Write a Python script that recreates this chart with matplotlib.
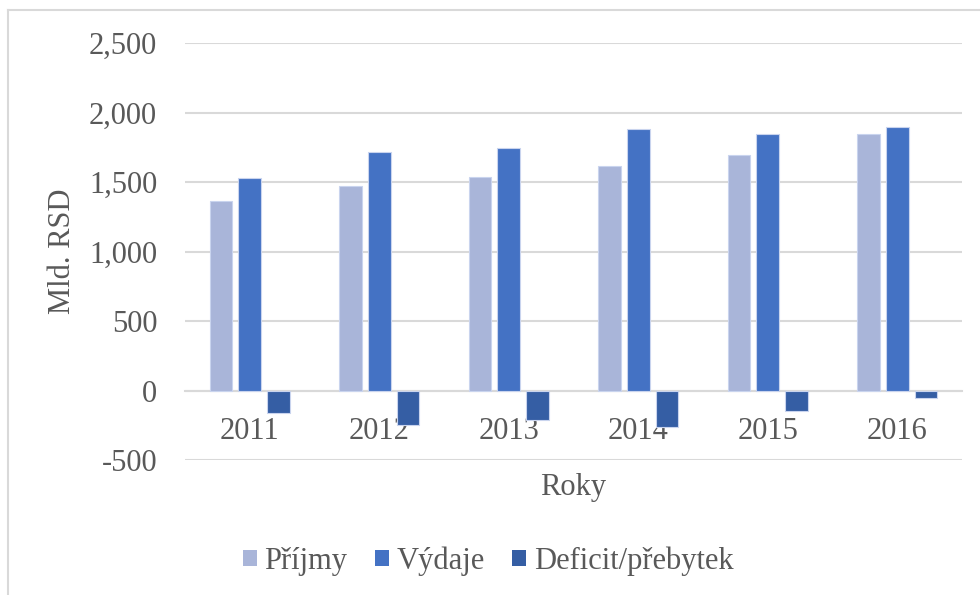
import matplotlib
matplotlib.use("Agg")
import matplotlib.pyplot as plt
from matplotlib.patches import Patch
from matplotlib.lines import Line2D
import numpy as np

years = ["2011", "2012", "2013", "2014", "2015", "2016"]
prijmy = [1361, 1471, 1537, 1616, 1693, 1842]
vydaje = [1526, 1717, 1748, 1878, 1844, 1899]
deficit = [-165, -246, -215, -261, -151, -57]
series_names = ["Příjmy", "Výdaje", "Deficit/přebytek"]
colors = ["#A9B5D9", "#4472C4", "#355EA4"]
yticks = [-500, 0, 500, 1000, 1500, 2000, 2500]
ytick_labels = ["-500", "0", "500", "1,000", "1,500", "2,000", "2,500"]

plt.rcParams["font.family"] = ["Liberation Serif", "DejaVu Serif"]
text_color = "#595959"
grid_color = "#D9D9D9"
FS = 22

W, H = 980, 595
fig = plt.figure(figsize=(W / 100, H / 100), dpi=100)
ax = fig.add_axes([185 / W, 1 - 460 / H, (962 - 185) / W, (460 - 43) / H])

x = np.arange(len(years))
bw = 0.174
off = 0.222
for i, (vals, c) in enumerate(zip([prijmy, vydaje, deficit], colors)):
    ax.bar(x + (i - 1) * off, vals, width=bw, color=c, edgecolor="#C9D4EE",
           linewidth=0.8, zorder=3, label=series_names[i])

ax.set_xlim(-0.5, len(years) - 0.5)
ax.set_ylim(-500, 2500)
ax.set_yticks(yticks)
ax.set_yticklabels(ytick_labels)
ax.yaxis.grid(True, color=grid_color, linewidth=1.5, zorder=0)
ax.set_axisbelow(True)
for s in ["top", "right", "left"]:
    ax.spines[s].set_visible(False)
ax.spines["bottom"].set_position(("data", 0))
ax.spines["bottom"].set_color(grid_color)
ax.spines["bottom"].set_linewidth(1.5)
ax.spines["bottom"].set_zorder(2)
ax.set_xticks(x)
ax.set_xticklabels(years)
ax.tick_params(axis="x", length=0, pad=19, labelsize=FS, labelcolor=text_color)
ax.tick_params(axis="y", length=0, pad=20, labelsize=FS, labelcolor=text_color)

fig.text(62 / W, 1 - 251 / H, "Mld. RSD", rotation=90, ha="center", va="center",
         fontsize=FS, color=text_color)
fig.text(573 / W, 1 - 487 / H, "Roky", ha="center", va="center",
         fontsize=FS, color=text_color)

handles = [Patch(facecolor=c, edgecolor="none") for c in colors]
fig.legend(handles, series_names, loc="center", bbox_to_anchor=(488 / W, 1 - 561 / H),
           ncol=3, frameon=False, fontsize=FS, handlelength=0.46, handleheight=0.46,
           handletextpad=0.25, columnspacing=0.9, labelcolor=text_color,
           borderaxespad=0, borderpad=0)

# chart-area frame
fig.add_artist(Line2D([8 / W, 8 / W], [0, 1 - 10 / H], color=grid_color, linewidth=1.5,
                      transform=fig.transFigure))
fig.add_artist(Line2D([8 / W, 1], [1 - 10 / H, 1 - 10 / H], color=grid_color, linewidth=1.5,
                      transform=fig.transFigure))

fig.savefig("out.png", dpi=100)
